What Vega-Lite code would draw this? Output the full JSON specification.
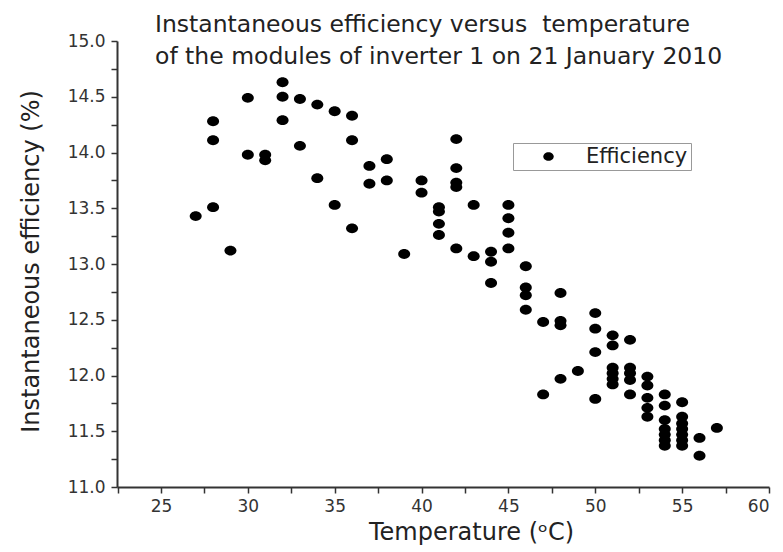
{
  "$schema": "https://vega.github.io/schema/vega-lite/v6.json",
  "width": 652,
  "height": 446,
  "autosize": {"type": "none"},
  "padding": {"left": 117, "top": 41, "right": 14, "bottom": 65},
  "background": "white",
  "title": {
    "text": ["Instantaneous efficiency versus\u00a0 temperature", "of the modules of inverter 1 on 21 January 2010"],
    "anchor": "start",
    "frame": "group",
    "dx": 38,
    "offset": -36,
    "font": "DejaVu Sans",
    "fontSize": 23.5,
    "fontWeight": "normal",
    "color": "#222",
    "lineHeight": 32
  },
  "data": {
    "values": [
      {"T": 27, "E": 13.43}, {"T": 28, "E": 14.28}, {"T": 28, "E": 14.11}, {"T": 28, "E": 13.51},
      {"T": 29, "E": 13.12}, {"T": 30, "E": 14.49}, {"T": 30, "E": 13.98},
      {"T": 31, "E": 13.98}, {"T": 31, "E": 13.93},
      {"T": 32, "E": 14.63}, {"T": 32, "E": 14.5}, {"T": 32, "E": 14.29},
      {"T": 33, "E": 14.48}, {"T": 33, "E": 14.06},
      {"T": 34, "E": 14.43}, {"T": 34, "E": 13.77},
      {"T": 35, "E": 14.37}, {"T": 35, "E": 13.53},
      {"T": 36, "E": 14.33}, {"T": 36, "E": 14.11}, {"T": 36, "E": 13.32},
      {"T": 37, "E": 13.88}, {"T": 37, "E": 13.72},
      {"T": 38, "E": 13.94}, {"T": 38, "E": 13.75},
      {"T": 39, "E": 13.09},
      {"T": 40, "E": 13.75}, {"T": 40, "E": 13.64},
      {"T": 41, "E": 13.51}, {"T": 41, "E": 13.47}, {"T": 41, "E": 13.36}, {"T": 41, "E": 13.26},
      {"T": 42, "E": 14.12}, {"T": 42, "E": 13.86}, {"T": 42, "E": 13.73}, {"T": 42, "E": 13.69}, {"T": 42, "E": 13.14},
      {"T": 43, "E": 13.53}, {"T": 43, "E": 13.07},
      {"T": 44, "E": 13.11}, {"T": 44, "E": 13.02}, {"T": 44, "E": 12.83},
      {"T": 45, "E": 13.53}, {"T": 45, "E": 13.41}, {"T": 45, "E": 13.28}, {"T": 45, "E": 13.14},
      {"T": 46, "E": 12.98}, {"T": 46, "E": 12.79}, {"T": 46, "E": 12.72}, {"T": 46, "E": 12.59},
      {"T": 47, "E": 12.48}, {"T": 47, "E": 11.83},
      {"T": 48, "E": 12.74}, {"T": 48, "E": 12.49}, {"T": 48, "E": 12.45}, {"T": 48, "E": 11.97},
      {"T": 49, "E": 12.04},
      {"T": 50, "E": 12.56}, {"T": 50, "E": 12.42}, {"T": 50, "E": 12.21}, {"T": 50, "E": 11.79},
      {"T": 51, "E": 12.36}, {"T": 51, "E": 12.27}, {"T": 51, "E": 12.07}, {"T": 51, "E": 12.02}, {"T": 51, "E": 11.97}, {"T": 51, "E": 11.92},
      {"T": 52, "E": 12.32}, {"T": 52, "E": 12.07}, {"T": 52, "E": 12.02}, {"T": 52, "E": 11.96}, {"T": 52, "E": 11.83},
      {"T": 53, "E": 11.99}, {"T": 53, "E": 11.91}, {"T": 53, "E": 11.8}, {"T": 53, "E": 11.71}, {"T": 53, "E": 11.63},
      {"T": 54, "E": 11.83}, {"T": 54, "E": 11.73}, {"T": 54, "E": 11.6}, {"T": 54, "E": 11.52}, {"T": 54, "E": 11.47}, {"T": 54, "E": 11.42}, {"T": 54, "E": 11.37},
      {"T": 55, "E": 11.76}, {"T": 55, "E": 11.63}, {"T": 55, "E": 11.57}, {"T": 55, "E": 11.52}, {"T": 55, "E": 11.47}, {"T": 55, "E": 11.42}, {"T": 55, "E": 11.37},
      {"T": 56, "E": 11.44}, {"T": 56, "E": 11.28},
      {"T": 57, "E": 11.53}
    ]
  },
  "transform": [{"calculate": "'Efficiency'", "as": "series"}],
  "mark": {"type": "point", "filled": true, "opacity": 1, "size": 144, "shape": "M-1,0A1,0.82,0,1,0,1,0A1,0.82,0,1,0,-1,0Z"},
  "encoding": {
    "x": {
      "field": "T", "type": "quantitative",
      "scale": {"domain": [22.47, 60], "nice": false, "zero": false},
      "axis": {
        "title": "Temperature (ᵒC)",
        "titleX": 354,
        "values": [22.5, 25, 27.5, 30, 32.5, 35, 37.5, 40, 42.5, 45, 47.5, 50, 52.5, 55, 57.5, 60],
        "labelExpr": "datum.value % 5 === 0 ? datum.label : ''",
        "grid": false,
        "domainColor": "#333", "domainWidth": 2,
        "tickColor": "#333", "tickWidth": 1.5, "tickSize": 6,
        "labelFont": "DejaVu Sans", "labelFontSize": 17, "labelColor": "#333", "labelPadding": 5,
        "titleFont": "DejaVu Sans", "titleFontSize": 24, "titleFontWeight": "normal", "titleColor": "#222", "titlePadding": 6
      }
    },
    "y": {
      "field": "E", "type": "quantitative",
      "scale": {"domain": [11, 15], "nice": false, "zero": false},
      "axis": {
        "title": "Instantaneous efficiency (%)",
        "values": [11, 11.25, 11.5, 11.75, 12, 12.25, 12.5, 12.75, 13, 13.25, 13.5, 13.75, 14, 14.25, 14.5, 14.75, 15],
        "labelExpr": "(datum.value * 2) % 1 === 0 ? format(datum.value, '.1f') : ''",
        "grid": false,
        "domainColor": "#333", "domainWidth": 2,
        "tickColor": "#333", "tickWidth": 1.5, "tickSize": 6,
        "labelFont": "DejaVu Sans", "labelFontSize": 17, "labelColor": "#333", "labelPadding": 6,
        "titleFont": "DejaVu Sans", "titleFontSize": 24, "titleFontWeight": "normal", "titleColor": "#222", "titlePadding": 24,
        "titleY": 220
      }
    },
    "color": {
      "field": "series", "type": "nominal",
      "scale": {"range": ["black"]},
      "legend": {
        "title": null,
        "orient": "none",
        "legendX": 396,
        "legendY": 102,
        "strokeColor": "#999",
        "fillColor": "white",
        "padding": 3,
        "symbolSize": 110,
        "symbolType": "M-1,0A1,0.82,0,1,0,1,0A1,0.82,0,1,0,-1,0Z",
        "symbolOffset": 22,
        "labelOffset": 27,
        "labelFont": "DejaVu Sans",
        "labelFontSize": 21,
        "labelColor": "#222"
      }
    }
  },
  "config": {"view": {"stroke": null}}
}
